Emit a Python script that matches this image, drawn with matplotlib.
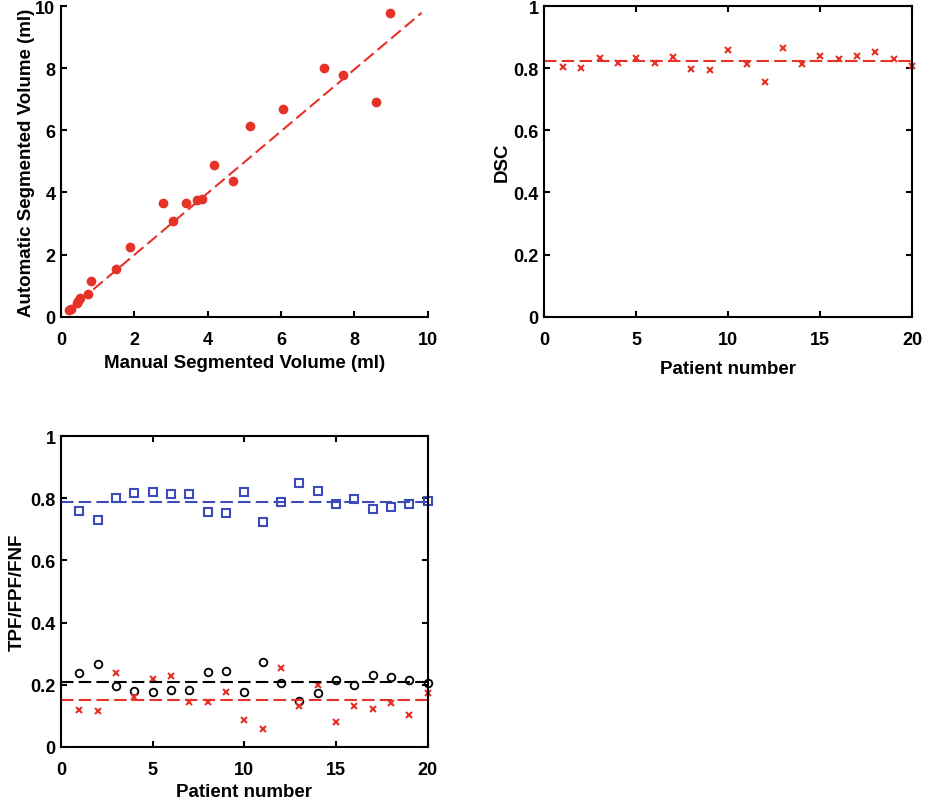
import matplotlib
matplotlib.use('Agg')
import matplotlib.pyplot as plt
import numpy as np

plt.rcParams['font.family'] = ['Liberation Sans', 'DejaVu Sans']
plt.rcParams['font.weight'] = 'bold'

# volume comparison (ml)
manual_vol = [0.23, 0.26, 0.43, 0.47, 0.52, 0.73, 0.82, 1.51, 1.89, 2.78, 3.05,
              3.41, 3.72, 3.84, 4.18, 4.69, 5.16, 6.07, 7.17, 7.70, 8.59, 8.97]
auto_vol = [0.23, 0.25, 0.44, 0.52, 0.60, 0.73, 1.15, 1.55, 2.23, 3.66, 3.07,
            3.66, 3.76, 3.79, 4.90, 4.37, 6.13, 6.68, 8.01, 7.77, 6.92, 9.77]
# regression line end points
fit_x = [0.14, 9.84]
fit_y = [0.14, 9.79]

patients = np.arange(1, 21)
dsc = [0.803, 0.801, 0.834, 0.817, 0.834, 0.818, 0.838, 0.798, 0.795, 0.860,
       0.813, 0.755, 0.864, 0.813, 0.840, 0.830, 0.840, 0.854, 0.830, 0.808]
tpf = [0.759, 0.730, 0.801, 0.818, 0.822, 0.815, 0.815, 0.755, 0.752, 0.822,
       0.723, 0.788, 0.850, 0.824, 0.781, 0.799, 0.765, 0.771, 0.781, 0.791]
fnf = [0.237, 0.266, 0.194, 0.178, 0.175, 0.183, 0.183, 0.241, 0.244, 0.175,
       0.273, 0.206, 0.146, 0.172, 0.216, 0.198, 0.231, 0.224, 0.216, 0.204]
fpf = [0.119, 0.115, 0.236, 0.161, 0.218, 0.227, 0.143, 0.145, 0.177, 0.086,
       0.056, 0.252, 0.131, 0.199, 0.079, 0.131, 0.121, 0.142, 0.103, 0.173]

red = '#e6332a'
blue = '#3b4cb8'
dash = (6, 2.5)
tick_fs = 13
label_fs = 13.5

fig = plt.figure(figsize=(9.26, 8.04), dpi=100)
ax1 = fig.add_axes([0.0659, 0.6049, 0.3958, 0.3861])
ax2 = fig.add_axes([0.5878, 0.6049, 0.3974, 0.3861])
ax3 = fig.add_axes([0.0659, 0.0700, 0.3958, 0.3861])


def style(ax, box=True):
    for s in ax.spines.values():
        s.set_linewidth(1.5)
    if not box:
        ax.spines['top'].set_visible(False)
        ax.spines['right'].set_visible(False)
    ax.tick_params(direction='in', length=4, width=1.5, labelsize=tick_fs,
                   top=box, right=box)
    ax.tick_params(axis='x', pad=10)
    ax.tick_params(axis='y', pad=4)
    for t in ax.get_xticklabels() + ax.get_yticklabels():
        t.set_fontweight('bold')


# scatter of volumes
ax1.plot(manual_vol, auto_vol, 'o', color=red, ms=6, mec=red)
ax1.plot(fit_x, fit_y, color=red, lw=1.5, dashes=dash)
ax1.set_xlim(0, 10)
ax1.set_ylim(0, 10)
ax1.set_xticks([0, 2, 4, 6, 8, 10])
ax1.set_yticks([0, 2, 4, 6, 8, 10])
ax1.set_xlabel('Manual Segmented Volume (ml)', fontsize=label_fs, fontweight='bold', labelpad=5)
ax1.set_ylabel('Automatic Segmented Volume (ml)', fontsize=label_fs, fontweight='bold', labelpad=0)
style(ax1, box=False)

# DSC
ax2.plot(patients, dsc, 'x', color=red, ms=5, mew=1.5)
ax2.axhline(np.mean(dsc), color=red, lw=1.5, dashes=dash)
ax2.set_xlim(0, 20)
ax2.set_ylim(0, 1)
ax2.set_xticks([0, 5, 10, 15, 20])
ax2.set_yticks([0, 0.2, 0.4, 0.6, 0.8, 1])
ax2.set_yticklabels(['0', '0.2', '0.4', '0.6', '0.8', '1'])
ax2.set_xlabel('Patient number', fontsize=label_fs, fontweight='bold', labelpad=9)
ax2.set_ylabel('DSC', fontsize=label_fs, fontweight='bold', labelpad=2)
style(ax2)

# TPF / FPF / FNF
ax3.plot(patients, tpf, 's', color=blue, ms=6, mfc='none', mew=1.5)
ax3.plot(patients, fnf, 'o', color='black', ms=5.5, mfc='none', mew=1.3)
ax3.plot(patients, fpf, 'x', color=red, ms=5, mew=1.5)
ax3.axhline(np.mean(tpf), color=blue, lw=1.5, dashes=dash)
ax3.axhline(np.mean(fnf), color='black', lw=1.5, dashes=dash)
ax3.axhline(np.mean(fpf), color=red, lw=1.5, dashes=dash)
ax3.set_xlim(0, 20)
ax3.set_ylim(0, 1)
ax3.set_xticks([0, 5, 10, 15, 20])
ax3.set_yticks([0, 0.2, 0.4, 0.6, 0.8, 1])
ax3.set_yticklabels(['0', '0.2', '0.4', '0.6', '0.8', '1'])
ax3.set_xlabel('Patient number', fontsize=label_fs, fontweight='bold', labelpad=4)
ax3.set_ylabel('TPF/FPF/FNF', fontsize=label_fs, fontweight='bold', labelpad=3)
style(ax3)

for ax in (ax1, ax2, ax3):
    for ln in ax.lines:
        ln.set_clip_on(False)

fig.savefig('out.png', dpi=100)
